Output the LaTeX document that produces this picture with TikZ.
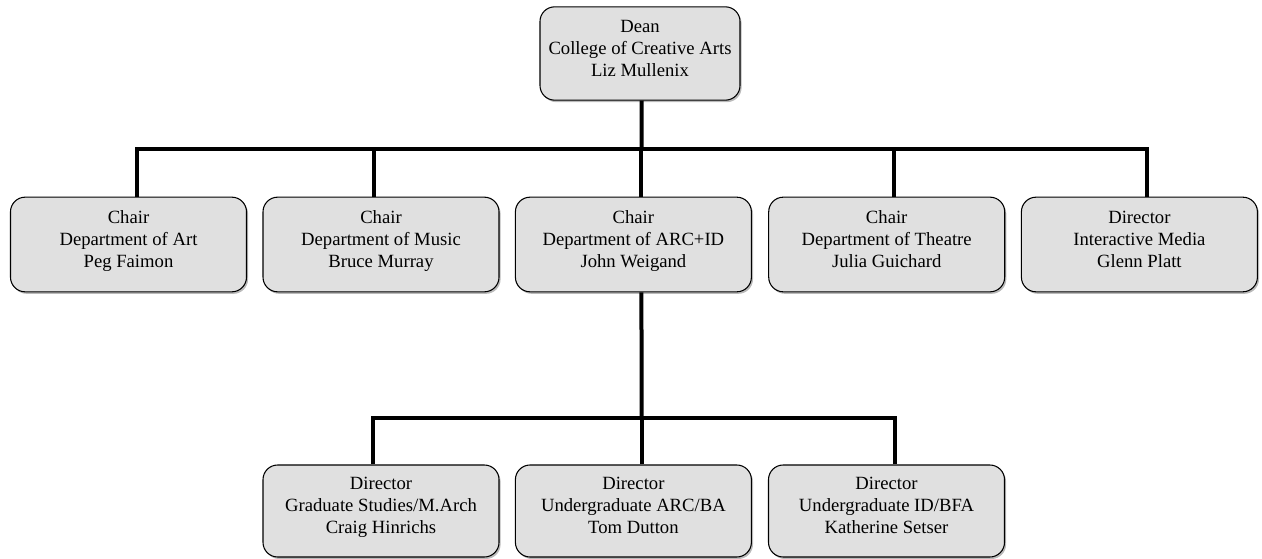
\documentclass[tikz,border=0pt]{standalone}
\usepackage{fontspec}
\setmainfont{Liberation Serif}
\usetikzlibrary{shadows}
\definecolor{boxgray}{RGB}{224,224,224}

\begin{document}
\begin{tikzpicture}[x=0.75pt,y=-0.75pt,
  unit/.style={draw=black,line width=0.8pt,fill=boxgray,rounded corners=11pt,
               minimum width=177pt,minimum height=71pt,align=center,
               font=\fontsize{14}{16.5}\selectfont,
               execute at begin node=\strut,
               execute at end node={\rule[-8pt]{0pt}{1pt}},
               drop shadow={shadow xshift=1.2pt,shadow yshift=-1.5pt,
                            fill=black!60,opacity=.45}},
  link/.style={line width=3pt,black}]
  \useasboundingbox (0,0) rectangle (1262,559);

  % Dean on top.
  \node[unit,minimum width=150pt,minimum height=70pt] (dean) at (640,53.5)
    {Dean\\College of Creative Arts\\Liz Mullenix};

  % The five units that report to the dean.
  \node[unit] (art)     at (128.5,244.5)  {Chair\\Department of Art\\Peg Faimon};
  \node[unit] (music)   at (381,244.5)    {Chair\\Department of Music\\Bruce Murray};
  \node[unit] (arcid)   at (633.4,244.5)  {Chair\\Department of ARC+ID\\John Weigand};
  \node[unit] (theatre) at (886.7,244.5)  {Chair\\Department of Theatre\\Julia Guichard};
  \node[unit] (media)   at (1139.4,244.5) {Director\\Interactive Media\\Glenn Platt};

  % Programmes inside ARC+ID.
  \node[unit,minimum height=69pt] (grad)  at (381,511)   {Director\\Graduate Studies/M.Arch\\Craig Hinrichs};
  \node[unit,minimum height=69pt] (ugarc) at (633.4,511) {Director\\Undergraduate ARC/BA\\Tom Dutton};
  \node[unit,minimum height=69pt] (ugid)  at (886.5,511) {Director\\Undergraduate ID/BFA\\Katherine Setser};

  \coordinate (topbus) at (641.7,149);
  \coordinate (lowbus) at (641.7,418);

  \draw[link] ([xshift=1.3pt]dean.south) -- (topbus);
  \foreach \n/\dx in {art/6pt,music/-5.25pt,arcid/6pt,theatre/5.5pt,media/6pt}
    \draw[link] ([xshift=\dx]\n.north) |- (topbus);

  \draw[link] ([xshift=6pt]arcid.south) -- (lowbus);
  \foreach \n/\dx in {grad/-5.75pt,ugarc/6.25pt,ugid/6.4pt}
    \draw[link] ([xshift=\dx]\n.north) |- (lowbus);
\end{tikzpicture}
\end{document}
